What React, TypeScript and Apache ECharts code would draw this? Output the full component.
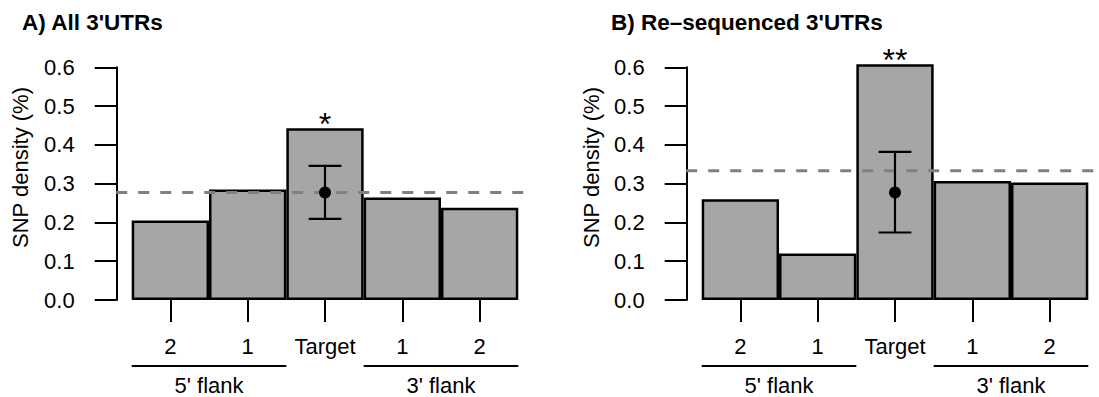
import React, { useEffect, useRef } from 'react';
import * as echarts from 'echarts';

const categories = ['2', '1', 'Target', '1', '2'];
const panelTitles = ["A) All 3'UTRs", "B) Re\u2013sequenced 3'UTRs"];
const yAxisTitle = 'SNP density (%)';
const valuesA = [0.205, 0.285, 0.443, 0.264, 0.238];
const valuesB = [0.26, 0.12, 0.608, 0.307, 0.303];
// mean, low, high of the expected density at the target
const errorA = [0.277, 0.209, 0.346];
const errorB = [0.277, 0.174, 0.382];
const refLines = [0.277, 0.333];
const stars = ['*', '**'];
const targetIndex = 2;
const groupNames = ["5' flank", "3' flank"];
const groupSpans = [
  [0, 1],
  [3, 4],
];

const FONT = '"Liberation Sans", Arial, Helvetica, sans-serif';

export default function App() {
  const ref = useRef<HTMLDivElement>(null);

  useEffect(() => {
    if (!ref.current) return;
    const chart = echarts.init(ref.current, null, { renderer: 'svg' });
    const values = [valuesA, valuesB];
    const errors = [errorA, errorB];
    const gridLefts = [131.7, 701.7];
    const titleLefts = [22, 611];
    const yLabelX = [20, 591];

    const grids: any[] = [];
    const xAxes: any[] = [];
    const yAxes: any[] = [];
    const series: any[] = [];
    const titles: any[] = [];
    const graphics: any[] = [];

    for (let i = 0; i < 2; i++) {
      grids.push({ left: gridLefts[i], top: 67.3, width: 386.6, height: 232.7 });
      titles.push({
        text: panelTitles[i],
        left: titleLefts[i],
        top: 11,
        padding: 0,
        textStyle: { fontSize: 22.5, fontWeight: 'bold', fontFamily: FONT, color: '#000' },
      });
      graphics.push({
        type: 'text',
        x: yLabelX[i],
        y: 167.5,
        rotation: Math.PI / 2,
        style: {
          text: yAxisTitle,
          fontSize: 22,
          fontFamily: FONT,
          fill: '#000',
          align: 'center',
          verticalAlign: 'middle',
          textAlign: 'center',
          textVerticalAlign: 'middle',
        },
      });
      xAxes.push({
        type: 'category',
        gridIndex: i,
        data: categories,
        axisLine: { show: false },
        axisTick: { show: true, alignWithLabel: true, length: 22, lineStyle: { color: '#000', width: 2 } },
        axisLabel: { margin: 35, fontSize: 22, color: '#000', fontFamily: FONT, interval: 0 },
        splitLine: { show: false },
      });
      yAxes.push({
        type: 'value',
        gridIndex: i,
        min: 0,
        max: 0.6,
        interval: 0.1,
        offset: 15,
        axisLine: { show: true, lineStyle: { color: '#000', width: 2 } },
        axisTick: { show: true, length: 22, lineStyle: { color: '#000', width: 2 } },
        axisLabel: {
          margin: 42,
          fontSize: 22,
          color: '#000',
          fontFamily: FONT,
          formatter: (v: number) => v.toFixed(1),
        },
        splitLine: { show: false },
      });
      series.push({
        type: 'bar',
        xAxisIndex: i,
        yAxisIndex: i,
        barCategoryGap: '0%',
        clip: false,
        itemStyle: { color: '#a6a6a6', borderColor: '#000', borderWidth: 2.5 },
        data: values[i].map((v, k) =>
          k === targetIndex
            ? {
                value: v,
                label: {
                  show: true,
                  position: 'top',
                  distance: -12,
                  formatter: stars[i],
                  fontSize: 32,
                  color: '#000',
                  fontFamily: FONT,
                },
              }
            : v
        ),
      });
      // reference dashed line across the plot region
      series.push({
        type: 'custom',
        xAxisIndex: i,
        yAxisIndex: i,
        clip: false,
        silent: true,
        z: 3,
        data: [[targetIndex, refLines[i]]],
        encode: { x: 0, y: 1 },
        renderItem: (params: any, api: any) => {
          const cs = params.coordSys;
          const y = api.coord([0, api.value(1)])[1];
          const ext = cs.width * 0.04;
          return {
            type: 'line',
            shape: { x1: cs.x - ext, y1: y, x2: cs.x + cs.width + ext, y2: y },
            style: { stroke: '#808080', lineWidth: 3, lineDash: [11, 11] },
          };
        },
      });
      // error bar with point
      series.push({
        type: 'custom',
        xAxisIndex: i,
        yAxisIndex: i,
        clip: false,
        silent: true,
        z: 4,
        data: [[targetIndex, errors[i][0], errors[i][1], errors[i][2]]],
        encode: { x: 0, y: [1, 2, 3] },
        renderItem: (params: any, api: any) => {
          const c = api.coord([api.value(0), api.value(1)]);
          const lo = api.coord([api.value(0), api.value(2)]);
          const hi = api.coord([api.value(0), api.value(3)]);
          const half = api.size([1, 0])[0] * 0.212;
          const st = { stroke: '#000', lineWidth: 2.2 };
          return {
            type: 'group',
            children: [
              { type: 'line', shape: { x1: c[0], y1: lo[1], x2: c[0], y2: hi[1] }, style: st },
              { type: 'line', shape: { x1: c[0] - half, y1: hi[1], x2: c[0] + half, y2: hi[1] }, style: st },
              { type: 'line', shape: { x1: c[0] - half, y1: lo[1], x2: c[0] + half, y2: lo[1] }, style: st },
              { type: 'circle', shape: { cx: c[0], cy: c[1], r: 6 }, style: { fill: '#000' } },
            ],
          };
        },
      });
      // flank group brackets below the axis
      series.push({
        type: 'custom',
        xAxisIndex: i,
        yAxisIndex: i,
        clip: false,
        silent: true,
        data: groupSpans.map((s) => [s[0], s[1]]),
        encode: { x: [0, 1] },
        renderItem: (params: any, api: any) => {
          const band = api.size([1, 0])[0];
          const p0 = api.coord([api.value(0), 0]);
          const p1 = api.coord([api.value(1), 0]);
          const x1 = p0[0] - band / 2;
          const x2 = p1[0] + band / 2;
          const y = p0[1] + 66;
          return {
            type: 'group',
            children: [
              { type: 'line', shape: { x1, y1: y, x2, y2: y }, style: { stroke: '#000', lineWidth: 2.2 } },
              {
                type: 'text',
                x: (x1 + x2) / 2,
                y: y + 19,
                style: {
                  text: groupNames[params.dataIndex],
                  fontSize: 22,
                  fontFamily: FONT,
                  fill: '#000',
                  align: 'center',
                  verticalAlign: 'middle',
                },
              },
            ],
          };
        },
      });
    }

    chart.setOption({
      animation: false,
      backgroundColor: '#fff',
      title: titles,
      grid: grids,
      xAxis: xAxes,
      yAxis: yAxes,
      series,
      graphic: graphics,
    });
    return () => chart.dispose();
  }, []);

  return (
    <div
      ref={ref}
      style={{ position: 'fixed', left: 0, top: 0, width: 1099, height: 397 }}
    />
  );
}
